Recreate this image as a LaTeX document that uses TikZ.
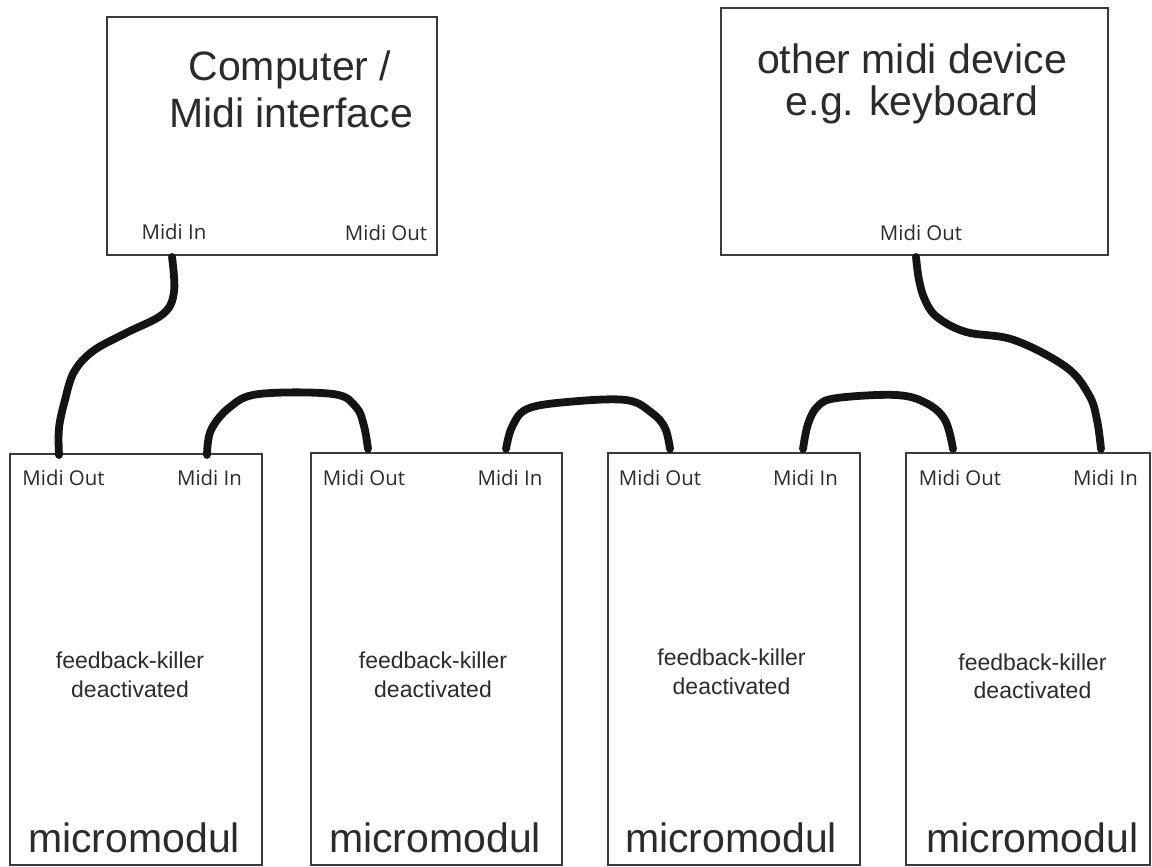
\documentclass[tikz,border=0pt]{standalone}
\usepackage{fontspec}
\setmainfont{Liberation Sans}
\newfontfamily\labelfont{Open Sans}
\definecolor{txtgray}{HTML}{2B2B2B}
\definecolor{boxgray}{HTML}{3A3A3A}
\begin{document}
\begin{tikzpicture}[x=0.5pt,y=-0.5pt,
  box/.style={draw=boxgray, line width=1.1pt, inner sep=0pt},
  big/.style={text=txtgray, font=\fontsize{20.5}{24}\selectfont, inner sep=0pt},
  port/.style={text=txtgray, font=\labelfont\fontsize{10.2}{12}\selectfont, inner sep=0pt},
  note/.style={text=txtgray, font=\fontsize{11.5}{14}\selectfont, inner sep=0pt},
  cable/.style={draw=black!92, line width=3.9pt, line cap=round, line join=round}]
\useasboundingbox (0,0) rectangle (1152,867);
\fill[white] (0,0) rectangle (1152,867);

% top boxes
\node[box, minimum width=165pt, minimum height=119pt] (comp) at (272,136) {};
\node[box, minimum width=193.5pt, minimum height=123.5pt] (other) at (914.5,131.5) {};
\node[big] (compA) at (290,70) {Computer /};
\node[big] (compB) at (291,113) {Midi interface};
\node[big] (othA) at (912,59) {other midi device};
\node[big] (othB) at (912,105) {e.g. keyboard};
\node[port] (compIn) at (174,232) {Midi In};
\node[port] (compOut) at (386,233) {Midi Out};
\node[port] (othOut) at (921,233) {Midi Out};

% bottom boxes
\node[box, minimum width=126pt, minimum height=205.5pt] (m1) at (136,659.5) {};
\node[box, minimum width=125.5pt, minimum height=206pt] (m2) at (436.5,659) {};
\node[box, minimum width=126pt, minimum height=206pt] (m3) at (734,659) {};
\node[box, minimum width=122pt, minimum height=206pt] (m4) at (1028,659) {};

\node[port] (m1out) at (63.5,478) {Midi Out};
\node[port] (m1in) at (209.5,478) {Midi In};
\node[port] (m2out) at (364,478) {Midi Out};
\node[port] (m2in) at (510,478) {Midi In};
\node[port] (m3out) at (660,478) {Midi Out};
\node[port] (m3in) at (805.5,478) {Midi In};
\node[port] (m4out) at (960,478) {Midi Out};
\node[port] (m4in) at (1105.5,478) {Midi In};

\node[note] (f1a) at (130,660) {feedback-killer};
\node[note] (f1b) at (130,689) {deactivated};
\node[note] (f2a) at (433,660) {feedback-killer};
\node[note] (f2b) at (433,689) {deactivated};
\node[note] (f3a) at (731.5,657) {feedback-killer};
\node[note] (f3b) at (731.5,686) {deactivated};
\node[note] (f4a) at (1032.5,662) {feedback-killer};
\node[note] (f4b) at (1032.5,690) {deactivated};

\node[big] (mm1) at (134,838) {micromodul};
\node[big] (mm2) at (435,838) {micromodul};
\node[big] (mm3) at (731,838) {micromodul};
\node[big] (mm4) at (1032.5,838) {micromodul};

% cable end points
\coordinate (pA) at (172,257);
\coordinate (qA) at (59,455);
\coordinate (pB) at (207,455);
\coordinate (qB) at (368,449);
\coordinate (pC) at (506,449);
\coordinate (qC) at (670,449);
\coordinate (pD) at (803,449);
\coordinate (qD) at (953,449);
\coordinate (pE) at (916,257);
\coordinate (qE) at (1101,449);

% cables
\draw[cable] plot[smooth, tension=0.6] coordinates {(pA) (174,292) (163,314) (126,333) (93,351) (74,372) (65,400) (59,428) (qA)};
\draw[cable] plot[smooth, tension=0.6] coordinates {(pB) (211,430) (230,407) (259,394) (333,394) (356,407) (364,426) (qB)};
\draw[cable] plot[smooth, tension=0.6] coordinates {(pC) (512,427) (527,409) (567,402) (626,400) (652,413) (665,428) (qC)};
\draw[cable] plot[smooth, tension=0.6] coordinates {(pD) (808,424) (818,406) (837,398) (896,395) (926,403) (945,420) (qD)};
\draw[cable] plot[smooth, tension=0.6] coordinates {(pE) (919,280) (925,300) (937,317) (966,332) (1014,340) (1066,367) (1089,395) (1097,420) (qE)};
\end{tikzpicture}
\end{document}
